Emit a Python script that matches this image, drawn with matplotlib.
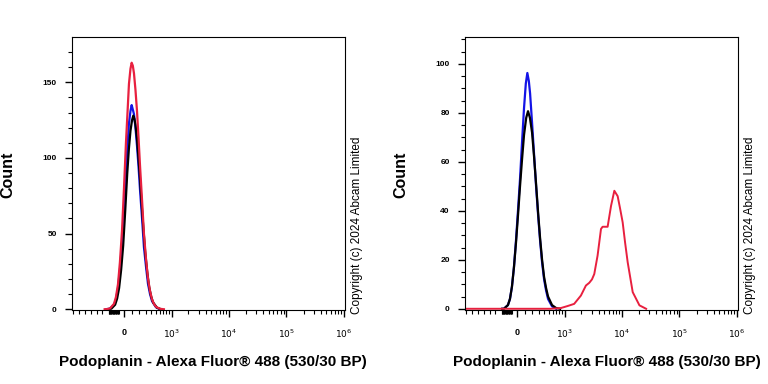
"""
Flow cytometry histograms: Podoplanin - Alexa Fluor 488, two panels.
"""

import numpy as np
import matplotlib
matplotlib.use("Agg")
import matplotlib.pyplot as plt
from matplotlib.ticker import FixedLocator, FixedFormatter

plt.rcParams["font.family"] = ["Liberation Sans", "DejaVu Sans"]

# --- Data (fluorescence value, count) ---
# left panel
left_red_x = [-260, -239, -180, -125, -100, -74, -50, -24, 0, 24, 44, 61, 80, 95, 110, 125, 145, 166,
              188, 209, 240, 270, 305, 339, 378, 418, 460, 506, 607, 721]
left_red_y = [0, 0, 0.5, 3.6, 8, 16.5, 31, 52, 80, 110, 131, 149, 159, 163, 161, 156, 145, 131,
              113, 95, 72, 50, 33, 20.5, 12, 6.5, 3.5, 1.6, 0.3, 0]
left_blue_x = [-239, -180, -125, -100, -74, -50, -24, 0, 24, 44, 61, 80, 95, 110, 125, 145, 166,
               188, 209, 240, 270, 305, 339, 378, 418, 506, 607]
left_blue_y = [0, 0.4, 3, 6.5, 13.7, 26, 43, 66, 91, 109, 123, 131, 135, 132, 129, 120, 108,
               94, 79, 60, 41, 28, 17, 10, 5.4, 1.3, 0]
left_black_x = [-220, -160, -110, -85, -60, -35, -10, 15, 40, 60, 80, 100, 116, 130, 145, 165, 185,
                208, 230, 260, 290, 325, 360, 400, 440, 530, 640]
left_black_y = [0, 0.4, 3, 7, 14, 26, 42, 65, 90, 106, 118, 125, 128, 126, 122, 113, 101,
                87, 72, 54, 38, 25, 15, 8.5, 4.5, 1, 0]

# right panel
right_blue_x = [-190, -167, -113, -87, -62, -37, -12, 12, 37, 62, 87, 110, 130, 150, 167, 195, 225,
                256, 290, 323, 360, 399, 440, 484, 582, 697]
right_blue_y = [0, 0, 1.5, 4, 9, 17, 28, 40, 53, 68, 82, 92, 96.3, 93, 88, 76, 63,
                50, 38, 28, 19, 12, 7.5, 4, 1, 0]
right_black_x = [-190, -167, -113, -87, -62, -37, -12, 12, 37, 62, 87, 115, 139, 165, 195, 225, 256,
                 290, 323, 360, 399, 440, 484, 582, 697, 829]
right_black_y = [0, 0, 1.5, 4, 9, 17, 27, 38, 50, 61, 71, 78, 80.7, 78, 72, 62, 51,
                 39, 29, 20, 13, 8.5, 5, 1.5, 0.3, 0]
right_red_x = [-1200, 549, 854, 1126, 1485, 1953, 2391, 2735, 3050, 3346, 3819, 4380, 4672, 5713,
               6548, 7473, 8534, 9400, 10431, 11500, 12749, 15586, 20405, 26660]
right_red_y = [0, 0, 0.3, 1.1, 2, 5.4, 9.5, 10.6, 12, 14.2, 21.7, 32.6, 33.5, 33.5,
               42, 48.2, 46, 41, 35.3, 27, 19, 6.8, 1.4, 0]

x_major = [0, 1e3, 1e4, 1e5, 1e6]
x_major_labels = ["0", r"$10^3$", r"$10^4$", r"$10^5$", r"$10^6$"]
x_minor = ([-1150, -895, -690, -530, -400, -305]
           + list(range(-200, -60, 8))
           + list(range(100, 1000, 100))
           + [m * 10 ** e for e in (3, 4, 5) for m in range(2, 10)])

xlabel = "Podoplanin - Alexa Fluor® 488 (530/30 BP)"
copyright_text = "Copyright (c) 2024 Abcam Limited"

W = 305.0
RED = "#e8203f"
BLUE = "#1414e6"


def fwd(x):
    return np.arcsinh(np.asarray(x) / W)


def inv(u):
    return W * np.sinh(np.asarray(u))


def style_axis(ax, ymax, ymajor, yminor):
    ax.set_xscale("function", functions=(fwd, inv))
    ax.set_xlim(-1200, 1.05e6)
    ax.set_ylim(-0.5, ymax)
    ax.xaxis.set_major_locator(FixedLocator(x_major))
    ax.xaxis.set_major_formatter(FixedFormatter(x_major_labels))
    ax.xaxis.set_minor_locator(FixedLocator(x_minor))
    ax.set_yticks(ymajor)
    ax.set_yticks(yminor, minor=True)
    ax.tick_params(axis="x", which="major", length=5, width=1, labelsize=6.5, pad=8)
    ax.tick_params(axis="x", which="minor", length=3, width=0.8)
    ax.tick_params(axis="y", which="major", length=5, width=1, labelsize=6, pad=6)
    ax.tick_params(axis="y", which="minor", length=3, width=0.8)
    for lbl in ax.get_yticklabels() + ax.get_xticklabels():
        lbl.set_fontweight("bold")
    for sp in ax.spines.values():
        sp.set_linewidth(0.8)


fig = plt.figure(figsize=(7.68, 3.84), dpi=100)
ax1 = fig.add_axes([72 / 768, 1 - 310 / 384, 273 / 768, 273 / 384])
ax2 = fig.add_axes([465 / 768, 1 - 310 / 384, 273 / 768, 273 / 384])

ax1.plot(left_blue_x, left_blue_y, color=BLUE, lw=1.6)
ax1.plot(left_black_x, left_black_y, color="black", lw=1.6)
ax1.plot(left_red_x, left_red_y, color=RED, lw=1.6)
style_axis(ax1, 180, [0, 50, 100, 150], list(range(0, 180, 10)))

ax2.plot(right_blue_x, right_blue_y, color=BLUE, lw=1.6)
ax2.plot(right_black_x, right_black_y, color="black", lw=1.6)
ax2.plot(right_red_x, right_red_y, color=RED, lw=1.4)
style_axis(ax2, 111, [0, 20, 40, 60, 80, 100], list(range(0, 111, 5)))

for xc, xlab, xcopy in [(8, 213, 357), (401, 607, 750)]:
    fig.text(xc / 768, 1 - 175 / 384, "Count", rotation=90, ha="center", va="center",
             fontsize=11.5, fontweight="bold")
    fig.text(xlab / 768, 1 - 362 / 384, xlabel, ha="center", va="center",
             fontsize=11, fontweight="bold")
    fig.text(xcopy / 768, 1 - 225 / 384, copyright_text, rotation=90, ha="center",
             va="center", fontsize=8.5)

fig.savefig("out.png", dpi=100)
